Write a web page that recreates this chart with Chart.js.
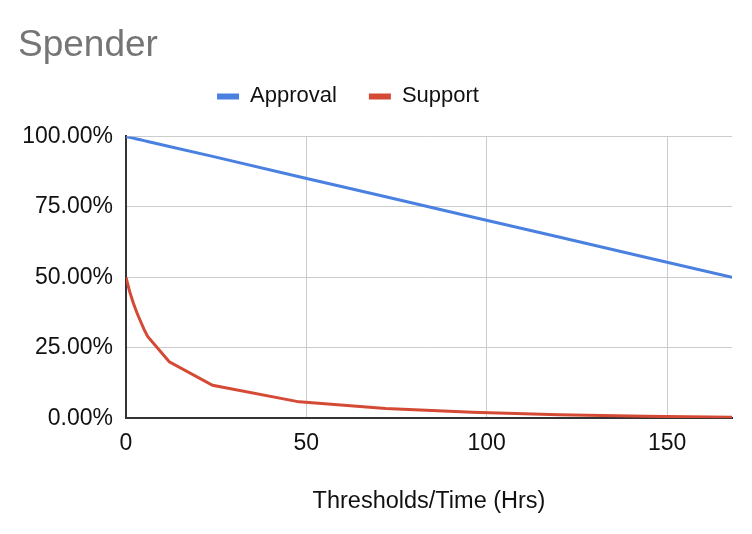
<!DOCTYPE html>
<html>
<head>
<meta charset="utf-8">
<script src="https://cdn.jsdelivr.net/npm/chart.js@4/dist/chart.umd.min.js"></script>
<style>
  body { margin: 0; background: #fff; }
  #box { width: 752px; height: 534px; position: relative; }
</style>
</head>
<body>
<div id="box"><canvas id="myChart"></canvas></div>
<script>
// data
var hours    = [0, 1, 2, 3, 4, 5, 6, 12, 24, 48, 72, 96, 120, 144, 168];
var approval = [100, 99.7, 99.4, 99.1, 98.8, 98.5, 98.2, 96.4, 92.9, 85.7, 78.6, 71.4, 64.3, 57.1, 50];
var support  = [50, 45, 41, 37.5, 34.5, 31.5, 29, 20, 11.7, 5.8, 3.4, 2.1, 1.2, 0.7, 0.3];
var xTicks   = [0, 50, 100, 150];
var yTicks   = [0, 25, 50, 75, 100];

function points(vals) {
    return hours.map(function (h, i) { return { x: h, y: vals[i] }; });
}

var font = 'Liberation Sans, Arial, sans-serif';

// legend: a bit left of centre, and more room under it
var legendTweak = {
    id: 'legendTweak',
    beforeLayout: function (chart) {
        var lg = chart.legend;
        if (lg && !lg._tweaked) {
            var fit = lg.fit;
            lg.fit = function () {
                fit.call(this);
                this.height += 19;
            };
            lg._tweaked = true;
        }
    },
    afterLayout: function (chart) {
        chart.legend.left -= 54;
    }
};

var ctx = document.getElementById('myChart').getContext('2d');
var chart = new Chart(ctx, {
    type: 'line',
    data: {
        datasets: [
            {
                label: 'Approval',
                data: points(approval),
                borderColor: '#4a80e0',
                backgroundColor: '#4a80e0',
                borderWidth: 3,
                pointRadius: 0,
                tension: 0
            },
            {
                label: 'Support',
                data: points(support),
                borderColor: '#d44a35',
                backgroundColor: '#d44a35',
                borderWidth: 3,
                pointRadius: 0,
                tension: 0
            }
        ]
    },
    plugins: [legendTweak],
    options: {
        responsive: true,
        maintainAspectRatio: false,
        animation: false,
        layout: { padding: { left: 18, right: 20, top: 0, bottom: 18 } },
        plugins: {
            title: {
                display: true,
                text: 'Spender',
                align: 'start',
                color: '#757575',
                font: { family: font, size: 37, weight: 'normal' },
                padding: { top: 24, bottom: -15 }
            },
            legend: {
                display: true,
                labels: {
                    color: '#111',
                    font: { family: font, size: 22 },
                    boxWidth: 22,
                    boxHeight: 6,
                    padding: 32,
                    generateLabels: function (chart) {
                        var items = Chart.defaults.plugins.legend.labels.generateLabels(chart);
                        items.forEach(function (it) { it.lineWidth = 0; });
                        return items;
                    }
                }
            },
            tooltip: { enabled: false }
        },
        scales: {
            x: {
                type: 'linear',
                min: 0,
                max: 168,
                afterBuildTicks: function (scale) {
                    scale.ticks = xTicks.map(function (v) { return { value: v }; });
                },
                ticks: {
                    color: '#111',
                    font: { family: font, size: 23 },
                    padding: 12,
                    maxRotation: 0
                },
                grid: { color: '#cccccc', lineWidth: 1, drawTicks: false },
                border: { color: '#333', width: 2 },
                title: {
                    display: true,
                    text: 'Thresholds/Time (Hrs)',
                    color: '#111',
                    font: { family: font, size: 23.5 },
                    padding: { top: 18, bottom: 0 }
                }
            },
            y: {
                min: 0,
                max: 100,
                afterBuildTicks: function (scale) {
                    scale.ticks = yTicks.map(function (v) { return { value: v }; });
                },
                afterFit: function (scale) { scale.width = 108; },
                ticks: {
                    color: '#111',
                    font: { family: font, size: 23 },
                    padding: 13,
                    callback: function (v) { return v.toFixed(2) + '%'; }
                },
                grid: { color: '#cccccc', lineWidth: 1, drawTicks: false },
                border: { color: '#333', width: 2 }
            }
        }
    }
});
</script>
</body>
</html>
